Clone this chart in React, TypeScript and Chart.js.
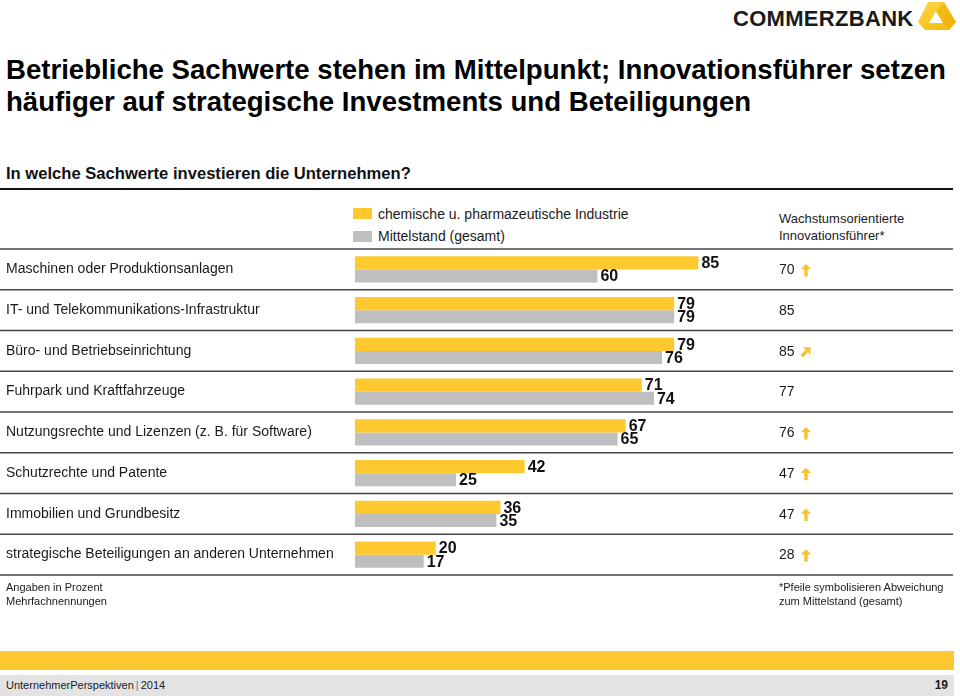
import React, { useEffect, useRef } from "react";
import { Chart, registerables } from "chart.js";

Chart.register(...registerables);

const categories = [
  "Maschinen oder Produktionsanlagen",
  "IT- und Telekommunikations-Infrastruktur",
  "Büro- und Betriebseinrichtung",
  "Fuhrpark und Kraftfahrzeuge",
  "Nutzungsrechte und Lizenzen (z. B. für Software)",
  "Schutzrechte und Patente",
  "Immobilien und Grundbesitz",
  "strategische Beteiligungen an anderen Unternehmen",
];
const seriesNames = ["chemische u. pharmazeutische Industrie", "Mittelstand (gesamt)"];
const chemPharma = [85, 79, 79, 71, 67, 42, 36, 20];
const mittelstand = [60, 79, 76, 74, 65, 25, 35, 17];
const innovationLeaders = [70, 85, 85, 77, 76, 47, 47, 28];
const arrowDirections = ["up", "", "upright", "", "up", "up", "up", "up"];

const FONT = '"Liberation Sans", Arial, Helvetica, sans-serif';
const YELLOW = "#FDC92F";
const GRAY = "#BFBFBF";
const ARROW = "#F7C230";

function drawArrow(ctx: CanvasRenderingContext2D, cx: number, cy: number, angle: number) {
  ctx.save();
  ctx.translate(cx, cy);
  ctx.rotate(angle);
  ctx.beginPath();
  ctx.moveTo(0, -6.5);
  ctx.lineTo(5.2, -1.2);
  ctx.lineTo(1.7, -1.2);
  ctx.lineTo(1.7, 6);
  ctx.lineTo(-1.7, 6);
  ctx.lineTo(-1.7, -1.2);
  ctx.lineTo(-5.2, -1.2);
  ctx.closePath();
  ctx.fillStyle = ARROW;
  ctx.fill();
  ctx.restore();
}

const overlayPlugin = {
  id: "overlay",
  beforeDatasetsDraw(chart: any) {
    const { ctx, chartArea, scales } = chart;
    const n = categories.length;
    const step = (chartArea.bottom - chartArea.top) / n;
    ctx.save();
    ctx.strokeStyle = "#454545";
    ctx.lineWidth = 1.5;
    for (let i = 0; i <= n; i++) {
      const yy =
        i < n ? scales.y.getPixelForValue(i) - step / 2 : scales.y.getPixelForValue(n - 1) + step / 2;
      ctx.beginPath();
      ctx.moveTo(0, yy);
      ctx.lineTo(953, yy);
      ctx.stroke();
    }
    ctx.restore();
  },
  afterDatasetsDraw(chart: any) {
    const { ctx, scales } = chart;
    ctx.save();
    ctx.font = `bold 16px ${FONT}`;
    ctx.fillStyle = "#111";
    ctx.textBaseline = "middle";
    ctx.textAlign = "left";
    chart.data.datasets.forEach((ds: any, di: number) => {
      const meta = chart.getDatasetMeta(di);
      meta.data.forEach((el: any, i: number) => {
        ctx.fillText(String(ds.data[i]), el.x + 3, el.y + 1);
      });
    });
    ctx.font = `14px ${FONT}`;
    ctx.fillStyle = "#1a1a1a";
    innovationLeaders.forEach((v, i) => {
      const y = scales.y.getPixelForValue(i);
      ctx.fillText(String(v), 779, y + 1);
      const d = arrowDirections[i];
      if (d === "up") drawArrow(ctx, 806, y + 1, 0);
      else if (d === "upright") drawArrow(ctx, 806, y + 1, Math.PI / 4);
    });
    ctx.restore();
  },
};

function T(props: {
  left?: number;
  right?: number;
  baseline: number;
  size: number;
  bold?: boolean;
  color?: string;
  children: React.ReactNode;
  style?: React.CSSProperties;
}) {
  const { left, right, baseline, size, bold, color, children, style } = props;
  const top = baseline - 0.9465 * size;
  return (
    <div
      style={{
        position: "absolute",
        left,
        right,
        top,
        fontSize: size,
        lineHeight: `${size * 1.2}px`,
        fontWeight: bold ? "bold" : "normal",
        color: color || "#111",
        whiteSpace: "nowrap",
        fontFamily: FONT,
        ...style,
      }}
    >
      {children}
    </div>
  );
}

export default function App() {
  const ref = useRef<HTMLCanvasElement | null>(null);

  useEffect(() => {
    if (!ref.current) return;
    const chart = new Chart(ref.current, {
      type: "bar",
      data: {
        labels: categories,
        datasets: [
          {
            label: seriesNames[0],
            data: chemPharma,
            backgroundColor: YELLOW,
            borderWidth: 0,
            barPercentage: 1,
            categoryPercentage: 0.65,
          },
          {
            label: seriesNames[1],
            data: mittelstand,
            backgroundColor: GRAY,
            borderWidth: 0,
            barPercentage: 1,
            categoryPercentage: 0.65,
          },
        ],
      },
      options: {
        indexAxis: "y",
        responsive: false,
        animation: false,
        events: [],
        layout: { padding: { left: 6, right: 201, top: 9, bottom: 10 } },
        plugins: { legend: { display: false }, tooltip: { enabled: false } },
        scales: {
          x: { display: false, min: 0, max: 100 },
          y: {
            afterFit: (s: any) => {
              s.width = 349;
            },
            grid: { display: false },
            border: { display: false },
            ticks: {
              crossAlign: "far",
              color: "#1a1a1a",
              font: { family: FONT, size: 14 },
              padding: 0,
              autoSkip: false,
            },
          },
        },
      } as any,
      plugins: [overlayPlugin],
    });
    return () => chart.destroy();
  }, []);

  return (
    <div
      style={{
        position: "absolute",
        left: 0,
        top: 0,
        width: 960,
        height: 696,
        background: "#fff",
        overflow: "hidden",
        fontFamily: FONT,
      }}
    >
      {/* Logo */}
      <T left={733} baseline={26.5} size={22} bold color="#1a1a1a" style={{ letterSpacing: "0.3px" }}>
        COMMERZBANK
      </T>
      <svg style={{ position: "absolute", left: 916, top: 0 }} width={42} height={32} viewBox="0 0 42 32">
        <defs>
          <linearGradient id="lg" x1="0" y1="0" x2="1" y2="1">
            <stop offset="0" stopColor="#FFD84A" />
            <stop offset="1" stopColor="#F2B705" />
          </linearGradient>
        </defs>
        <path
          d="M12 2 L28 2 L40 22 L33 30 L9 30 L2 22 Z M20 11 L13 23 L27 23 Z"
          fill="url(#lg)"
          fillRule="evenodd"
        />
        <path d="M28 2 L40 22 L33 30 L27 23 L20 11 Z" fill="#E9AE08" opacity={0.55} />
      </svg>

      {/* Title */}
      <T left={6} baseline={79} size={27.6} bold color="#000">
        Betriebliche Sachwerte stehen im Mittelpunkt; Innovationsführer setzen
      </T>
      <T left={6} baseline={111} size={27.6} bold color="#000">
        häufiger auf strategische Investments und Beteiligungen
      </T>
      <T left={6} baseline={180} size={16.6} bold color="#111">
        In welche Sachwerte investieren die Unternehmen?
      </T>
      <div style={{ position: "absolute", left: 0, top: 188, width: 953, height: 2, background: "#111" }} />

      {/* Legend */}
      <div style={{ position: "absolute", left: 353, top: 208, width: 19, height: 11, background: YELLOW }} />
      <div style={{ position: "absolute", left: 353, top: 231, width: 19, height: 11, background: GRAY }} />
      <T left={378} baseline={219} size={14} color="#1a1a1a">
        {seriesNames[0]}
      </T>
      <T left={378} baseline={241} size={14} color="#1a1a1a">
        {seriesNames[1]}
      </T>
      <T left={779} baseline={223} size={13} color="#1a1a1a">
        Wachstumsorientierte
      </T>
      <T left={779} baseline={240} size={13} color="#1a1a1a">
        Innovationsführer*
      </T>

      {/* Chart */}
      <canvas
        ref={ref}
        width={960}
        height={345}
        style={{ position: "absolute", left: 0, top: 240, width: 960, height: 345 }}
      />

      {/* Notes */}
      <T left={6} baseline={591} size={11} color="#1a1a1a">
        Angaben in Prozent
      </T>
      <T left={6} baseline={605} size={11} color="#1a1a1a">
        Mehrfachnennungen
      </T>
      <T left={779} baseline={591} size={11} color="#1a1a1a">
        *Pfeile symbolisieren Abweichung
      </T>
      <T left={779} baseline={605} size={11} color="#1a1a1a">
        zum Mittelstand (gesamt)
      </T>

      {/* Footer */}
      <div style={{ position: "absolute", left: 0, top: 651, width: 954, height: 19, background: YELLOW }} />
      <div style={{ position: "absolute", left: 0, top: 675, width: 954, height: 21, background: "#E3E3E3" }} />
      <T left={6} baseline={689} size={11} color="#1a1a1a">
        UnternehmerPerspektiven<span style={{ color: "#777", margin: "0 2px" }}>|</span>2014
      </T>
      <T right={12} baseline={689} size={12} bold color="#1a1a1a">
        19
      </T>
    </div>
  );
}
